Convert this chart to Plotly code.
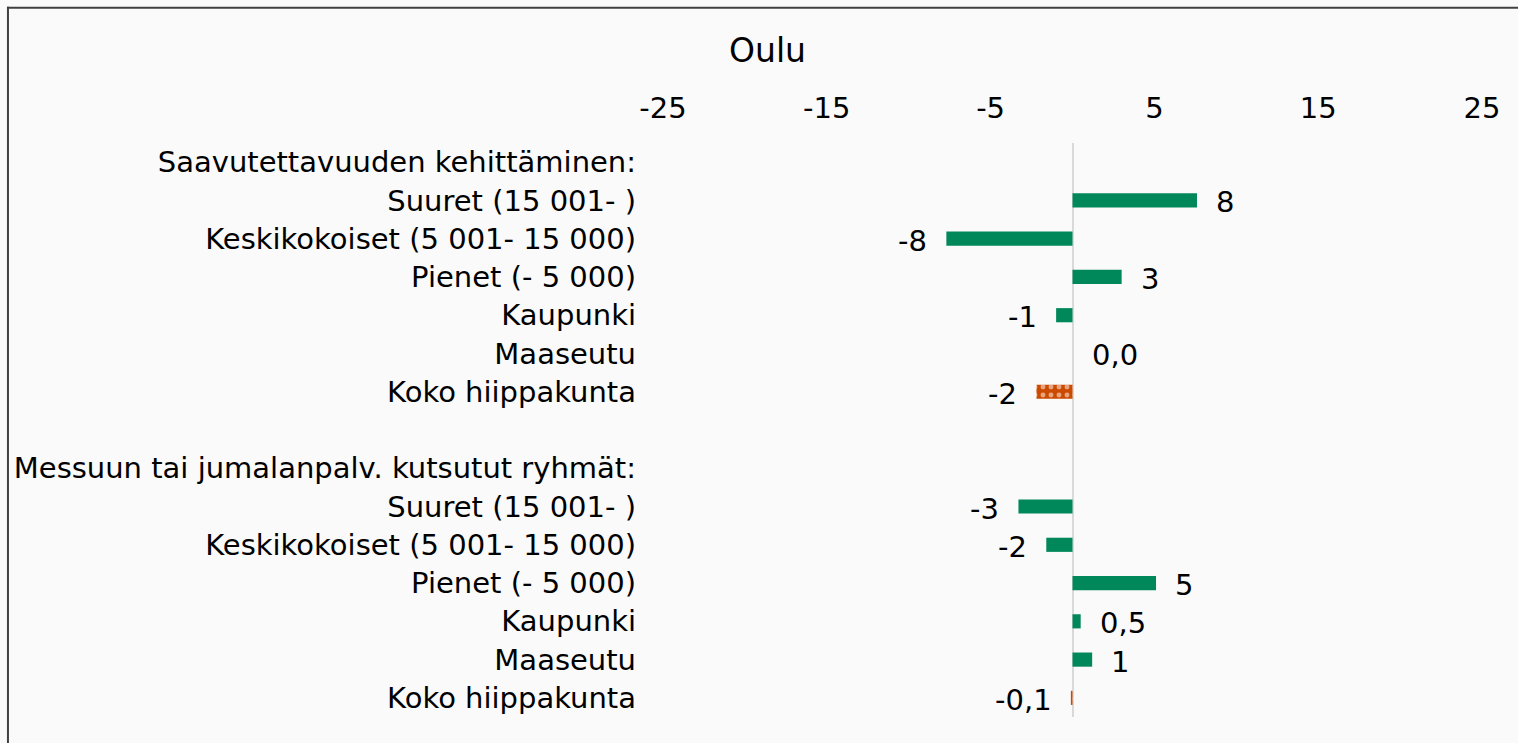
import plotly.graph_objects as go

# ---- data ----
row_ids = ["h1", "s1", "k1", "p1", "ka1", "m1", "ko1", "gap",
           "h2", "s2", "k2", "p2", "ka2", "m2", "ko2"]
row_labels = ["Saavutettavuuden kehittäminen:", "Suuret (15 001- )",
              "Keskikokoiset (5 001- 15 000)", "Pienet (- 5 000)", "Kaupunki",
              "Maaseutu", "Koko hiippakunta", "",
              "Messuun tai jumalanpalv. kutsutut ryhmät:", "Suuret (15 001- )",
              "Keskikokoiset (5 001- 15 000)", "Pienet (- 5 000)", "Kaupunki",
              "Maaseutu", "Koko hiippakunta"]
values = [None, 7.6, -7.7, 3.0, -1.0, 0.0, -2.2, None,
          None, -3.3, -1.6, 5.1, 0.5, 1.2, -0.1]
value_text = ["", "8", "-8", "3", "-1", "0,0", "-2", "",
              "", "-3", "-2", "5", "0,5", "1", "-0,1"]
total_rows = ["ko1", "ko2"]
x_ticks = [-25, -15, -5, 5, 15, 25]

GREEN = "#00875A"
ORANGE = "#CC4A00"
FONT = "DejaVu Sans"
FS = 29

green_y, green_x, orange_y, orange_x = [], [], [], []
for rid, v in zip(row_ids, values):
    if v is None:
        continue
    if rid in total_rows:
        orange_y.append(rid); orange_x.append(v)
    else:
        green_y.append(rid); green_x.append(v)

fig = go.Figure()
fig.add_trace(go.Bar(y=green_y, x=green_x, orientation="h",
                     marker=dict(color=GREEN, line=dict(width=0)),
                     width=0.37, hoverinfo="skip"))
fig.add_trace(go.Bar(y=orange_y, x=orange_x, orientation="h",
                     marker=dict(color=ORANGE, line=dict(width=0),
                                 pattern=dict(shape=".", fgcolor="white",
                                              bgcolor=ORANGE, size=8,
                                              solidity=0.3, fillmode="overlay")),
                     width=0.37, hoverinfo="skip"))

annotations = []
for rid, v, t in zip(row_ids, values, value_text):
    if v is None:
        continue
    neg = v < 0
    annotations.append(dict(x=v, y=rid, xref="x", yref="y", text=t,
                            showarrow=False,
                            xanchor="right" if neg else "left",
                            xshift=-17 if neg else 17, yshift=-2,
                            font=dict(family=FONT, size=FS, color="#000000")))

annotations.append(dict(x=0.128, y=1.162, xref="paper", yref="paper",
                        text="Oulu", showarrow=False, xanchor="center",
                        yanchor="middle",
                        font=dict(family=FONT, size=33, color="#000000")))

border = dict(color="#404040", width=2)
fig.update_layout(
    width=1518, height=743,
    margin=dict(l=663, r=36, t=143, b=26),
    paper_bgcolor="#FAFAFA", plot_bgcolor="#FAFAFA",
    barmode="overlay", showlegend=False,
    font=dict(family=FONT, size=FS, color="#000000"),
    annotations=annotations,
    shapes=[
        dict(type="line", xref="paper", yref="paper",
             x0=-0.7998, x1=-0.7998, y0=-0.1, y1=1.2375, line=border),
        dict(type="line", xref="paper", yref="paper",
             x0=-0.801, x1=1.2, y0=1.2357, y1=1.2357, line=border),
    ],
)
fig.update_xaxes(range=[-25, 25], side="top", tickvals=x_ticks,
                 ticktext=[str(v) for v in x_ticks], automargin=False,
                 showgrid=False, showline=False, ticks="",
                 zeroline=True, zerolinecolor="#D9D9D9", zerolinewidth=2,
                 ticklabelstandoff=18,
                 tickfont=dict(family=FONT, size=FS, color="#000000"))
fig.update_yaxes(type="category", categoryorder="array", categoryarray=row_ids,
                 range=[len(row_ids) - 0.5, -0.5], tickmode="array",
                 tickvals=row_ids, ticktext=row_labels, automargin=False,
                 showgrid=False, showline=False, ticks="", ticklabelstandoff=26,
                 tickfont=dict(family=FONT, size=FS, color="#000000"))

fig.write_html("out.html",
               config={"displayModeBar": False, "staticPlot": True},
               post_script="document.body.style.margin='0';"
                           "document.body.style.overflow='hidden';")
